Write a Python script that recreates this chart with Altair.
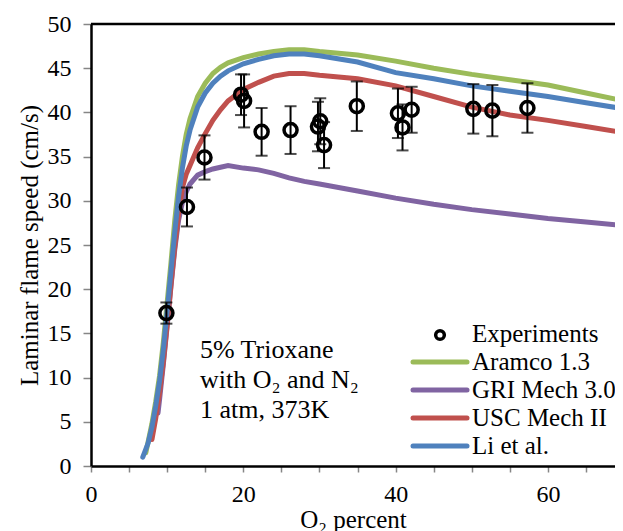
import altair as alt
import pandas as pd

FONT = "Liberation Serif"

series_names = ["Aramco 1.3", "GRI Mech 3.0", "USC Mech II", "Li et al."]
series_colors = ["#9BBB59", "#8064A2", "#C0504D", "#4F81BD"]

aramco_x = [7.2, 8.0, 8.5, 9.0, 9.5, 10.0, 10.5, 11.0, 11.5, 12.0, 12.5, 13.0, 14.0, 15.0, 16.0, 17.0, 18.0, 20.0, 22.0, 24.0, 26.0, 28.0, 30.0, 35.0, 40.0, 45.0, 50.0, 55.0, 60.0, 65.0, 70.0]
aramco_y = [1.5, 4.8, 7.3, 10.2, 14.0, 18.5, 23.0, 27.8, 31.8, 35.0, 37.5, 39.3, 41.8, 43.3, 44.4, 45.1, 45.6, 46.2, 46.6, 46.9, 47.1, 47.1, 46.9, 46.5, 45.8, 45.0, 44.3, 43.7, 43.1, 42.2, 41.3]

gri_x = [8.8, 9.0, 9.5, 10.0, 10.5, 11.0, 11.5, 12.0, 12.5, 13.0, 14.0, 15.0, 16.0, 17.0, 18.0, 20.0, 22.0, 24.0, 26.0, 28.0, 30.0, 35.0, 40.0, 45.0, 50.0, 55.0, 60.0, 65.0, 70.0]
gri_y = [6.0, 7.5, 11.5, 15.8, 20.3, 24.5, 27.8, 29.8, 31.0, 31.9, 32.9, 33.3, 33.6, 33.8, 34.0, 33.7, 33.5, 33.1, 32.6, 32.2, 31.9, 31.1, 30.3, 29.6, 29.0, 28.5, 28.0, 27.6, 27.2]

usc_x = [8.0, 8.5, 9.0, 9.5, 10.0, 10.5, 11.0, 11.5, 12.0, 12.5, 13.0, 14.0, 15.0, 16.0, 17.0, 18.0, 20.0, 22.0, 24.0, 26.0, 28.0, 30.0, 35.0, 40.0, 45.0, 50.0, 55.0, 60.0, 65.0, 70.0]
usc_y = [3.0, 5.4, 8.3, 11.8, 16.0, 20.5, 24.8, 28.5, 31.5, 33.0, 34.0, 36.0, 37.6, 39.1, 40.3, 41.3, 42.6, 43.4, 44.1, 44.4, 44.4, 44.2, 43.8, 43.0, 41.8, 40.6, 39.7, 39.1, 38.4, 37.7]

li_x = [6.8, 7.5, 8.0, 8.5, 9.0, 9.5, 10.0, 10.5, 11.0, 11.5, 12.0, 12.5, 13.0, 14.0, 15.0, 16.0, 17.0, 18.0, 20.0, 22.0, 24.0, 26.0, 28.0, 30.0, 35.0, 40.0, 45.0, 50.0, 55.0, 60.0, 65.0, 70.0]
li_y = [1.0, 2.6, 4.4, 6.8, 9.6, 13.2, 17.6, 22.0, 26.5, 30.5, 33.7, 36.2, 38.0, 40.6, 42.2, 43.3, 44.1, 44.7, 45.5, 46.0, 46.4, 46.6, 46.6, 46.4, 45.7, 44.5, 43.8, 43.0, 42.4, 41.8, 41.1, 40.4]

exp_x = [9.9, 12.6, 14.9, 19.7, 20.1, 22.4, 26.2, 29.8, 30.1, 30.6, 34.9, 40.3, 40.9, 42.1, 50.2, 52.7, 57.3]
exp_y = [17.3, 29.3, 34.9, 42.0, 41.3, 37.8, 38.0, 38.4, 39.0, 36.3, 40.7, 39.9, 38.3, 40.3, 40.4, 40.2, 40.5]
exp_err = [1.2, 2.2, 2.5, 2.3, 3.0, 2.7, 2.7, 2.8, 2.6, 2.6, 2.8, 2.8, 2.6, 2.6, 2.8, 2.9, 2.8]

exp_label = "Experiments"
note_lines = ["5% Trioxane", "with O\u2082 and N\u2082", "1 atm, 373K"]

rows = []
for name, xs, ys in zip(series_names, [aramco_x, gri_x, usc_x, li_x], [aramco_y, gri_y, usc_y, li_y]):
    for a, b in zip(xs, ys):
        rows.append({"series": name, "x": a, "y": b})
lines_df = pd.DataFrame(rows)

exp_df = pd.DataFrame({
    "x": exp_x,
    "y": exp_y,
    "lo": [v - e for v, e in zip(exp_y, exp_err)],
    "hi": [v + e for v, e in zip(exp_y, exp_err)],
})

PLOT_W = 524
PLOT_H = 442
X_MAX = 68.8

x_scale = alt.Scale(domain=[0, X_MAX], nice=False, zero=False)
y_scale = alt.Scale(domain=[0, 50], nice=False)

x_axis = alt.Axis(
    values=list(range(0, 70, 5)),
    labelExpr="datum.value % 20 == 0 ? datum.label : ''",
    labelFlush=False,
    title="O\u2082 percent",
    grid=False,
    domainColor="black", domainWidth=2.5,
    tickColor="#868686", tickSize=6, tickWidth=1.5,
    labelFont=FONT, labelFontSize=24, labelColor="black", labelPadding=10,
    titleFont=FONT, titleFontSize=25, titleFontWeight="normal", titleColor="black", titlePadding=1,
)
y_axis = alt.Axis(
    values=list(range(0, 55, 5)),
    title="Laminar flame speed (cm/s)",
    grid=False,
    domainColor="black", domainWidth=2.5,
    tickColor="#868686", tickSize=8, tickWidth=1.5,
    labelFont=FONT, labelFontSize=24, labelColor="black", labelPadding=12,
    titleFont=FONT, titleFontSize=25, titleFontWeight="normal", titleColor="black",
    titleX=-49, titleY=PLOT_H / 2,
)

lines = alt.Chart(lines_df).mark_line(strokeWidth=5, clip=True, strokeCap="round").encode(
    x=alt.X("x:Q", scale=x_scale, axis=x_axis),
    y=alt.Y("y:Q", scale=y_scale, axis=y_axis),
    color=alt.Color("series:N", scale=alt.Scale(domain=series_names, range=series_colors), legend=None),
    order=alt.Order("x:Q"),
)

err_rule = alt.Chart(exp_df).mark_rule(color="black", strokeWidth=2).encode(
    x="x:Q", y="lo:Q", y2="hi:Q"
)
cap_lo = alt.Chart(exp_df).mark_tick(color="black", thickness=2, size=12, orient="horizontal").encode(
    x="x:Q", y="lo:Q"
)
cap_hi = alt.Chart(exp_df).mark_tick(color="black", thickness=2, size=12, orient="horizontal").encode(
    x="x:Q", y="hi:Q"
)
points = alt.Chart(exp_df).mark_point(filled=False, size=170, strokeWidth=3.5, color="black", opacity=1).encode(
    x="x:Q", y="y:Q"
)

note = alt.Chart().mark_text(
    align="left", baseline="alphabetic", font=FONT, fontSize=26, lineHeight=30, color="black"
).encode(
    x=alt.datum(14.3), y=alt.datum(12.2), text=alt.value(note_lines)
)

top = alt.Chart().mark_rule(color="black", strokeWidth=2.5).encode(y=alt.datum(50))

LEG_SYM_X = 349
LEG_LINE_X0 = 322
LEG_LINE_X1 = 376
LEG_TEXT_X = 381
LEG_Y0 = 310
LEG_STEP = 28

legend_layers = [
    alt.Chart().mark_point(filled=False, size=75, strokeWidth=3.5, color="black", opacity=1).encode(
        x=alt.value(LEG_SYM_X), y=alt.value(LEG_Y0 + 1)
    ),
    alt.Chart().mark_text(align="left", baseline="middle", font=FONT, fontSize=25, color="black").encode(
        x=alt.value(LEG_TEXT_X), y=alt.value(LEG_Y0), text=alt.value(exp_label)
    ),
]
for i, (name, col) in enumerate(zip(series_names, series_colors)):
    yy = LEG_Y0 + (i + 1) * LEG_STEP
    legend_layers.append(
        alt.Chart().mark_rule(color=col, strokeWidth=5, strokeCap="round").encode(
            x=alt.value(LEG_LINE_X0), x2=alt.value(LEG_LINE_X1), y=alt.value(yy)
        )
    )
    legend_layers.append(
        alt.Chart().mark_text(align="left", baseline="middle", font=FONT, fontSize=25, color="black").encode(
            x=alt.value(LEG_TEXT_X), y=alt.value(yy), text=alt.value(name)
        )
    )

chart = alt.layer(lines, err_rule, cap_lo, cap_hi, points, note, top, *legend_layers).properties(
    width=PLOT_W, height=PLOT_H,
    padding={"left": 83, "top": 16, "right": 0, "bottom": 70},
    autosize=alt.AutoSizeParams(type="none"),
).configure_view(stroke=None)

chart.save("out.html", embed_options={"renderer": "svg", "actions": False})
